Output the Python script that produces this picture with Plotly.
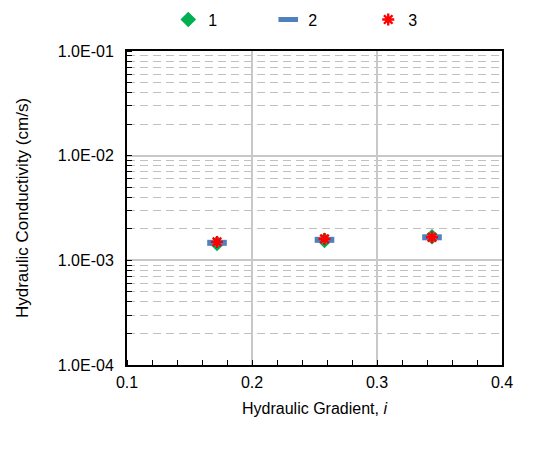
import plotly.graph_objects as go

gradient = [0.172, 0.258, 0.344]
series1 = [1.45e-3, 1.55e-3, 1.68e-3]
series2 = [1.47e-3, 1.57e-3, 1.66e-3]
series3 = [1.50e-3, 1.60e-3, 1.66e-3]
names = ["1", "2", "3"]

ytick_vals = [1e-4, 1e-3, 1e-2, 1e-1]
ytick_text = ["1.0E-04", "1.0E-03", "1.0E-02", "1.0E-01"]
xtick_vals = [0.1, 0.2, 0.3, 0.4]
xtick_text = ["0.1", "0.2", "0.3", "0.4"]

FONT = "Liberation Sans, Arial, sans-serif"

fig = go.Figure()
fig.add_trace(go.Scatter(
    x=gradient, y=series1, mode="markers", name=names[0],
    marker=dict(symbol="diamond", size=12, color="#00B050", line=dict(width=0))))
fig.add_trace(go.Scatter(
    x=gradient, y=series2, mode="markers", name=names[1],
    marker=dict(symbol="line-ew", size=14, color="#4F81BD",
                line=dict(width=6, color="#4F81BD"))))
fig.add_trace(go.Scatter(
    x=gradient, y=series3, mode="markers", name=names[2],
    marker=dict(symbol="asterisk-open", size=10, color="#FF0000",
                line=dict(width=2.4, color="#FF0000"))))

fig.update_layout(
    width=538, height=456,
    margin=dict(l=119, r=44, t=43, b=99, autoexpand=False),
    paper_bgcolor="white", plot_bgcolor="white",
    font=dict(family=FONT, size=16, color="#000000"),
    showlegend=True,
    legend=dict(orientation="h", x=0.11, xanchor="left", y=1.10, yanchor="middle",
                font=dict(size=16), itemwidth=30, entrywidth=55, entrywidthmode="pixels",
                traceorder="normal"),
)
fig.update_xaxes(
    range=[0.1, 0.4], tickvals=xtick_vals, ticktext=xtick_text,
    showline=True, linecolor="black", linewidth=2, mirror=True,
    showgrid=True, gridcolor="#C8C8C8", gridwidth=2,
    ticks="", zeroline=False, ticklabelstandoff=2,
    minor=dict(dtick=0.02, ticks="inside", ticklen=5, tickcolor="black", showgrid=False),
    title=dict(text="Hydraulic Gradient, <i>i</i>", font=dict(size=16), standoff=13),
)
fig.update_yaxes(
    type="log", range=[-4, -1], tickvals=ytick_vals, ticktext=ytick_text,
    showline=True, linecolor="black", linewidth=2, mirror=True,
    showgrid=True, gridcolor="#C8C8C8", gridwidth=2,
    ticks="", zeroline=False, ticklabelstandoff=8,
    minor=dict(dtick="D1", ticks="inside", ticklen=5, tickcolor="black",
               showgrid=True, gridcolor="#C0C0C0", griddash="8px,5px", gridwidth=1.3),
    title=dict(text="Hydraulic Conductivity (cm/s)", font=dict(size=17), standoff=25),
)

fig.write_html("out.html")
